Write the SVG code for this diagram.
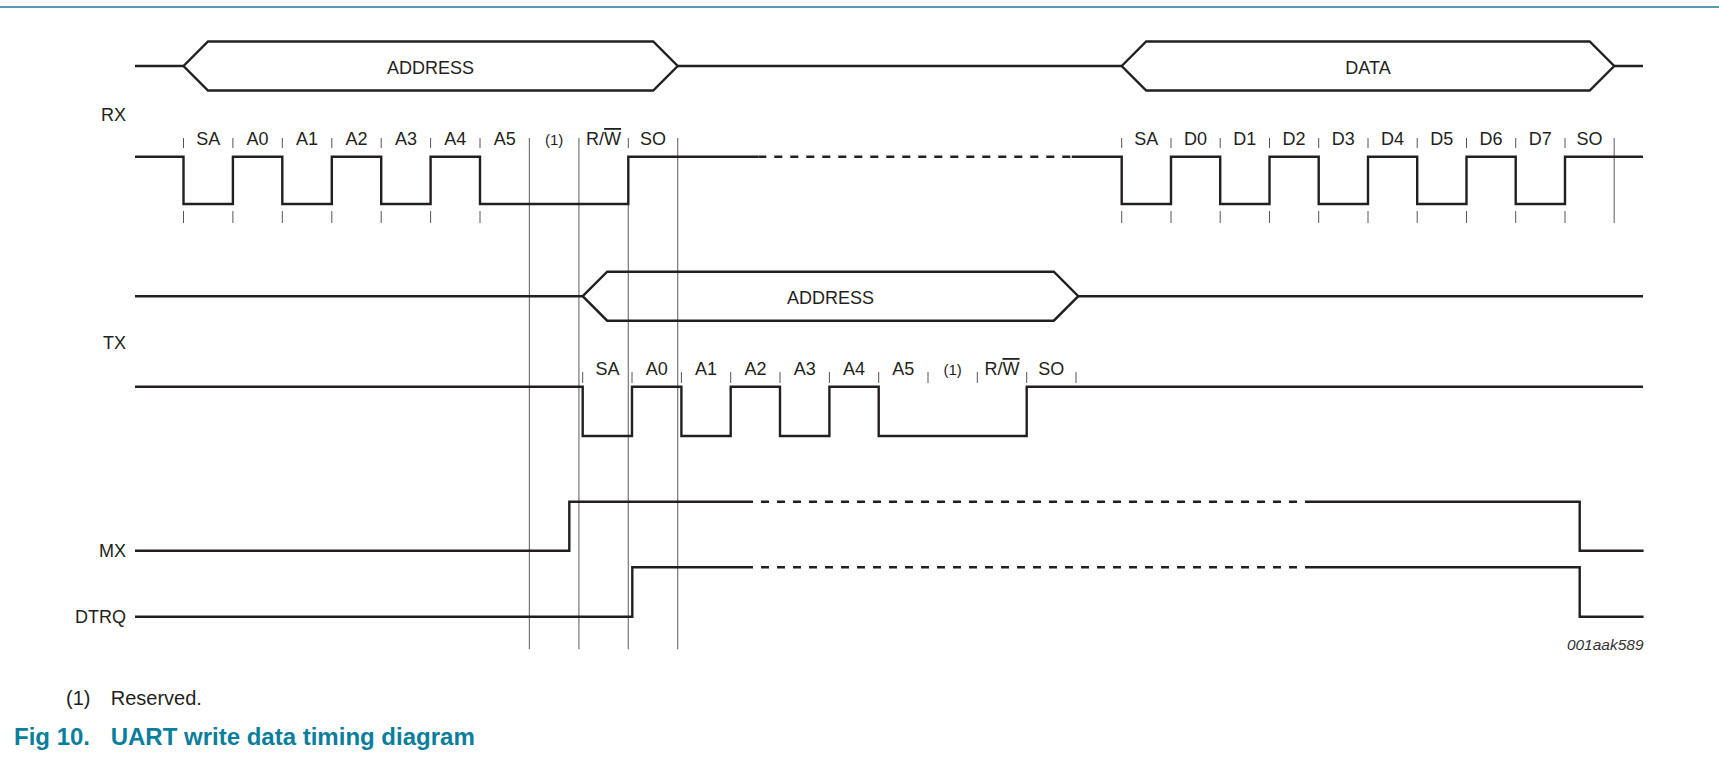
<svg xmlns="http://www.w3.org/2000/svg" width="1719" height="758" viewBox="0 0 1719 758">
<style>
.w{fill:none;stroke:#231f20;stroke-width:2.4;stroke-linejoin:miter}
.d{fill:none;stroke:#231f20;stroke-width:2.4;stroke-dasharray:8 8}
.tk{fill:none;stroke:#555;stroke-width:1}
.gd{fill:none;stroke:#777;stroke-width:1.2}
text{font-family:"Liberation Sans",Arial,sans-serif;fill:#231f20}
.lb{font-size:18px;text-anchor:middle}
.sm{font-size:15px;text-anchor:middle}
.sig{font-size:18px;text-anchor:end}
.ov{text-decoration:overline}
</style>
<rect width="1719" height="758" fill="#fff"/>
<line x1="0" y1="7" x2="1719" y2="7" stroke="#1e7b98" stroke-width="1.5"/>

<g id="guides">
<path class="gd" d="M529.4,138V649.3M578.9,138V649.3M628.3,204V649.3M677.7,138V649.3M1614.2,138V223"/>
</g>

<g id="rx-bus">
<path class="w" d="M135,66H183.5M677.7,66H1121.7M1614.2,66H1643"/>
<path class="w" d="M183.5,66L208,41.5H653.2L677.7,66L653.2,90.5H208Z"/>
<path class="w" d="M1121.7,66L1146.2,41.5H1589.7L1614.2,66L1589.7,90.5H1146.2Z"/>
<text class="lb" x="430.6" y="74">ADDRESS</text>
<text class="lb" x="1368" y="74">DATA</text>
</g>

<g id="rx">
<text class="sig" x="126" y="120.5">RX</text>
<path class="w" d="M135,156.7H183.5V204H232.9V156.7H282.3V204H331.8V156.7H381.2V204H430.6V156.7H480V204H628.3V156.7H758.3"/>
<path class="d" d="M758.3,156.7H1071.7"/>
<path class="w" d="M1071.7,156.7H1121.7V204H1171V156.7H1220.2V204H1269.5V156.7H1318.7V204H1368V156.7H1417.2V204H1466.5V156.7H1515.7V204H1565V156.7H1643"/>
<path class="tk" d="M183.5,138V148M232.9,138V148M282.3,138V148M331.8,138V148M381.2,138V148M430.6,138V148M480,138V148M628.3,138V148
M183.5,211V223M232.9,211V223M282.3,211V223M331.8,211V223M381.2,211V223M430.6,211V223M480,211V223
M1121.7,138V148M1171,138V148M1220.2,138V148M1269.5,138V148M1318.7,138V148M1368,138V148M1417.2,138V148M1466.5,138V148M1515.7,138V148M1565,138V148
M1121.7,211V223M1171,211V223M1220.2,211V223M1269.5,211V223M1318.7,211V223M1368,211V223M1417.2,211V223M1466.5,211V223M1515.7,211V223M1565,211V223"/>
<text class="lb" x="208.2" y="145">SA</text>
<text class="lb" x="257.6" y="145">A0</text>
<text class="lb" x="307.1" y="145">A1</text>
<text class="lb" x="356.5" y="145">A2</text>
<text class="lb" x="405.9" y="145">A3</text>
<text class="lb" x="455.3" y="145">A4</text>
<text class="lb" x="504.7" y="145">A5</text>
<text class="sm" x="554.2" y="145">(1)</text>
<text class="lb" x="603.6" y="145">R/<tspan class="ov">W</tspan></text>
<text class="lb" x="653" y="145">SO</text>
<text class="lb" x="1146.3" y="145">SA</text>
<text class="lb" x="1195.6" y="145">D0</text>
<text class="lb" x="1244.8" y="145">D1</text>
<text class="lb" x="1294.1" y="145">D2</text>
<text class="lb" x="1343.3" y="145">D3</text>
<text class="lb" x="1392.6" y="145">D4</text>
<text class="lb" x="1441.8" y="145">D5</text>
<text class="lb" x="1491.1" y="145">D6</text>
<text class="lb" x="1540.3" y="145">D7</text>
<text class="lb" x="1589.6" y="145">SO</text>
</g>

<g id="tx-bus">
<path class="w" d="M135,296.2H582.7M1078.3,296.2H1643"/>
<path class="w" d="M582.7,296.2L607.2,271.7H1053.8L1078.3,296.2L1053.8,320.7H607.2Z"/>
<text class="lb" x="830.5" y="304">ADDRESS</text>
</g>

<g id="tx">
<text class="sig" x="126" y="348.5">TX</text>
<path class="w" d="M135,386.7H582.7V436H632V386.7H681.4V436H730.7V386.7H780V436H829.4V386.7H878.7V436H1026.7V386.7H1643"/>
<path class="tk" d="M582.7,372V383M632,372V383M681.4,372V383M730.7,372V383M780,372V383M829.4,372V383M878.7,372V383M928,372V383M977.3,372V383M1026.7,372V383M1076,372V383"/>
<text class="lb" x="607.4" y="375">SA</text>
<text class="lb" x="656.7" y="375">A0</text>
<text class="lb" x="706" y="375">A1</text>
<text class="lb" x="755.4" y="375">A2</text>
<text class="lb" x="804.7" y="375">A3</text>
<text class="lb" x="854" y="375">A4</text>
<text class="lb" x="903.3" y="375">A5</text>
<text class="sm" x="952.7" y="375">(1)</text>
<text class="lb" x="1002" y="375">R/<tspan class="ov">W</tspan></text>
<text class="lb" x="1051.3" y="375">SO</text>
</g>

<g id="mx">
<text class="sig" x="126" y="557.3">MX</text>
<path class="w" d="M135,550.7H569.3V501.7H745"/>
<path class="d" d="M745,501.7H1306"/>
<path class="w" d="M1306,501.7H1579.7V550.7H1643.6"/>
</g>

<g id="dtrq">
<text class="sig" x="126" y="623.3">DTRQ</text>
<path class="w" d="M135,616.7H632.3V567.3H745"/>
<path class="d" d="M745,567.3H1306"/>
<path class="w" d="M1306,567.3H1579.7V616.7H1643.6"/>
</g>

<text x="1643.6" y="650" style="font-size:15.5px;font-style:italic;text-anchor:end;fill:#333">001aak589</text>
<text x="66" y="705" style="font-size:20px">(1)</text>
<text x="110.7" y="705" style="font-size:20px">Reserved.</text>
<text x="14" y="745" style="font-size:24px;font-weight:bold;fill:#0a7e9c">Fig 10.</text>
<text x="110.7" y="745" style="font-size:24px;font-weight:bold;fill:#0a7e9c">UART write data timing diagram</text>
</svg>
